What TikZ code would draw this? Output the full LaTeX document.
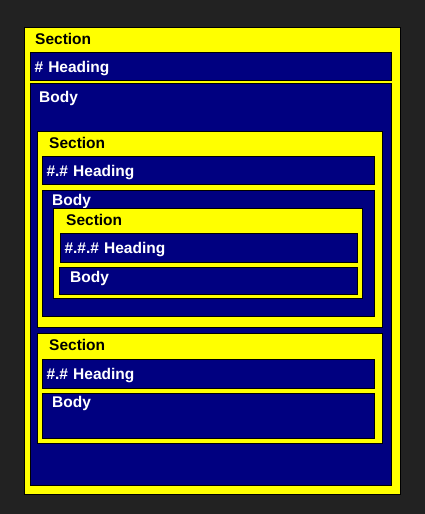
\documentclass[tikz,border=0pt]{standalone}
\usepackage{fontspec}
\setmainfont{Liberation Sans}
\usetikzlibrary{positioning}
\definecolor{secyellow}{HTML}{FFFF00}
\definecolor{blknavy}{HTML}{000080}
\definecolor{bgdark}{HTML}{222222}

\begin{document}
\begin{tikzpicture}[
	x=1pt, y=-1pt,
	every node/.style={
		font=\fontsize{15.5}{18}\selectfont\bfseries,
		inner sep=0pt
	},
	box/.style={
		draw=black,
		line width=1pt,
		anchor=north west
	},
	sec/.style={
		box,
		fill=secyellow
	},
	blk/.style={
		box,
		fill=blknavy
	},
	head/.style={
		blk,
		text=white,
		align=left,
		inner xsep=4pt,
		text height=11pt,
		text depth=0pt
	},
	sectxt/.style={
		text=black
	},
	bodytxt/.style={
		text=white
	}
	]

	\useasboundingbox (0,0) rectangle (425,514);
	\fill[bgdark] (0,0) rectangle (425,514);

	% outer section
	\node [sec, minimum width=376pt, minimum height=467pt] (Sec) at (24,27) {};
	\node [sectxt, below right=6pt and 11pt of Sec.north west] (SecTxt) {Section};
	\node [head, text width=353pt, minimum height=28pt] (Head) at (30,52) {\# Heading};
	\node [blk, minimum width=361pt, minimum height=402pt] (Body) at (30,83) {};
	\node [bodytxt, below right=8pt and 9pt of Body.north west] (BodyTxt) {Body};

	% first subsection
	\node [sec, minimum width=345pt, minimum height=196pt] (SubA) at (37,131) {};
	\node [sectxt, below right=6pt and 12pt of SubA.north west] (SubATxt) {Section};
	\node [head, text width=324pt, minimum height=28pt] (SubAHead) at (42,156) {\#.\# Heading};
	\node [blk, minimum width=332pt, minimum height=126pt] (SubABody) at (42,190) {};
	\node [bodytxt, below right=4pt and 10pt of SubABody.north west] (SubABodyTxt) {Body};

	% subsubsection
	\node [sec, minimum width=309pt, minimum height=90pt] (SubSub) at (53,208) {};
	\node [sectxt, below right=6pt and 13pt of SubSub.north west] (SubSubTxt) {Section};
	\node [head, text width=289pt, minimum height=29pt] (SubSubHead) at (60,233) {\#.\#.\# Heading};
	\node [blk, minimum width=298pt, minimum height=27pt] (SubSubBody) at (59,267) {};
	\node [bodytxt, below right=4pt and 11pt of SubSubBody.north west] (SubSubBodyTxt) {Body};

	% second subsection
	\node [sec, minimum width=345pt, minimum height=110pt] (SubB) at (37,333) {};
	\node [sectxt, below right=6pt and 12pt of SubB.north west] (SubBTxt) {Section};
	\node [head, text width=324pt, minimum height=29pt] (SubBHead) at (42,359) {\#.\# Heading};
	\node [blk, minimum width=332pt, minimum height=45pt] (SubBBody) at (42,393) {};
	\node [bodytxt, below right=3pt and 10pt of SubBBody.north west] (SubBBodyTxt) {Body};

\end{tikzpicture}
\end{document}
